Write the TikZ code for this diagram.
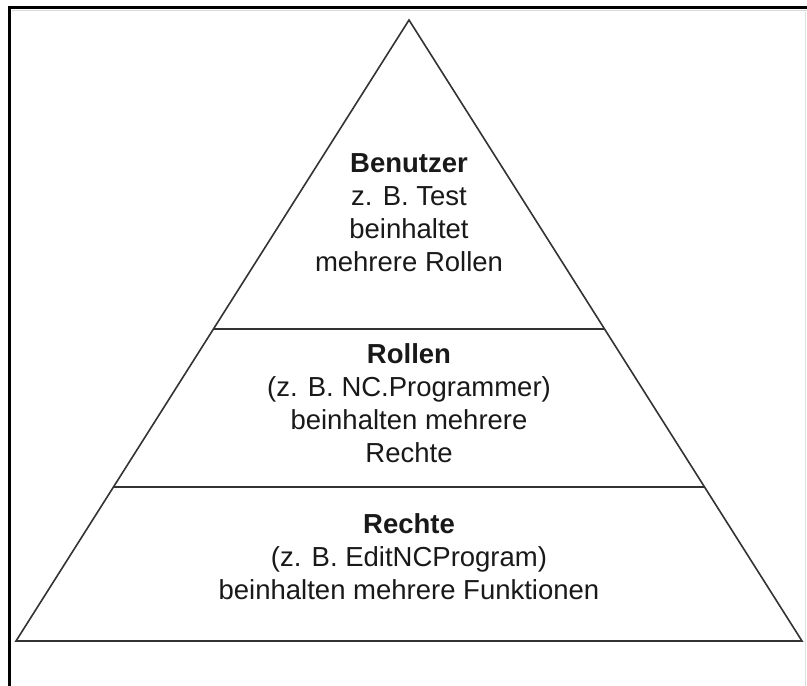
\documentclass[tikz,border=0pt]{standalone}
\usepackage{fontspec}
\setmainfont{Liberation Sans}
\usetikzlibrary{calc}
\begin{document}
\begin{tikzpicture}[x=1pt,y=-1pt,
  edge/.style={draw=black!80,line width=1.6pt,line join=miter},
  label/.style={align=center,inner sep=0pt,anchor=north,text=black!90,
    font=\fontsize{27.5}{33}\selectfont},
  frame/.style={draw=black,line width=3pt}]
\useasboundingbox (0,0) rectangle (807,686);
\fill[white] (0,0) rectangle (807,686);
% frame
\coordinate (fa) at (9.5,686);
\coordinate (fb) at (9.5,7.5);
\coordinate (fc) at (807,7.5);
\draw[frame] (fa) -- (fb) -- (fc);
\draw[black!12,line width=1pt] (805,12) -- (805,686);
\draw[black!15,line width=1pt] (12,10.5) -- (807,10.5);
% pyramid
\coordinate (apex) at (409,20);
\coordinate (bl) at (16,641);
\coordinate (br) at (802,641);
\draw[edge] (apex) -- (bl) -- (br) -- cycle;
\coordinate (l1) at ($(apex)!0.4976!(bl)$);
\coordinate (r1) at ($(apex)!0.4976!(br)$);
\coordinate (l2) at ($(apex)!0.7520!(bl)$);
\coordinate (r2) at ($(apex)!0.7520!(br)$);
\draw[edge] (l1) -- (r1);
\draw[edge] (l2) -- (r2);
% texts
\node[label] (benutzer) at (409,153.3) {\textbf{Benutzer}\\z. B. Test\\beinhaltet\\mehrere Rollen};
\node[label] (rollen) at (409,343) {\textbf{Rollen}\\(z. B. NC.Programmer)\\beinhalten mehrere\\Rechte};
\node[label] (rechte) at (409,513.3) {\textbf{Rechte}\\(z. B. EditNCProgram)\\beinhalten mehrere Funktionen};
\end{tikzpicture}
\end{document}
